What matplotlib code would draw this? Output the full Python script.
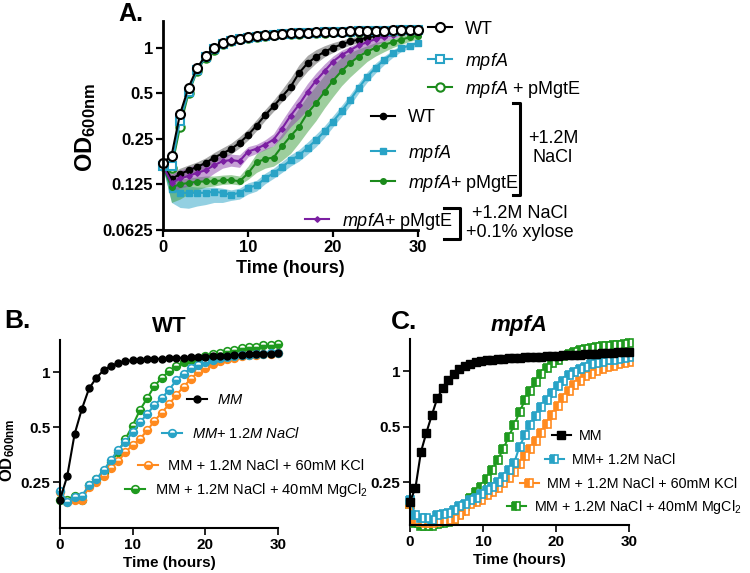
import matplotlib
matplotlib.use("Agg")
import matplotlib.pyplot as plt
import numpy as np
from matplotlib.lines import Line2D
from matplotlib.ticker import NullLocator

plt.rcParams['font.family'] = ['Liberation Sans', 'DejaVu Sans']
plt.rcParams['mathtext.fontset'] = 'custom'
plt.rcParams['mathtext.rm'] = 'Liberation Sans'
plt.rcParams['mathtext.it'] = 'Liberation Sans:italic'
plt.rcParams['mathtext.bf'] = 'Liberation Sans:bold'

# ---------------- data ----------------
# Panel A: hourly readings, 0-30 h
time_a = np.arange(0, 31)
wt_mm = [0.174, 0.193, 0.364, 0.544, 0.733, 0.886, 0.995, 1.07, 1.12, 1.145, 1.17,
         1.19, 1.21, 1.22, 1.235, 1.245, 1.25, 1.255, 1.26, 1.265, 1.27,
         1.275, 1.28, 1.285, 1.29, 1.29, 1.295, 1.3, 1.3, 1.305, 1.31]
mpfa_mm = [0.165, 0.165, 0.33, 0.51, 0.71, 0.87, 0.98, 1.06, 1.11, 1.14, 1.165,
           1.185, 1.2, 1.215, 1.23, 1.24, 1.245, 1.25, 1.255, 1.26, 1.265,
           1.27, 1.275, 1.28, 1.285, 1.29, 1.29, 1.295, 1.3, 1.3, 1.3]
mgte_mm = [0.165, 0.16, 0.30, 0.5, 0.7, 0.86, 0.97, 1.05, 1.1, 1.14, 1.16,
           1.18, 1.2, 1.21, 1.225, 1.235, 1.24, 1.245, 1.25, 1.255, 1.26,
           1.265, 1.27, 1.275, 1.28, 1.285, 1.285, 1.29, 1.29, 1.295, 1.3]

wt_nacl = [0.17, 0.136, 0.146, 0.155, 0.163, 0.173, 0.188, 0.2, 0.214, 0.235, 0.265,
           0.306, 0.358, 0.41, 0.475, 0.55, 0.68, 0.79, 0.87, 0.94, 1.0,
           1.05, 1.1, 1.13, 1.16, 1.2, 1.22, 1.245, 1.27, 1.28, 1.29]
wt_nacl_lo = [0.165, 0.125, 0.135, 0.143, 0.15, 0.16, 0.174, 0.185, 0.198, 0.218, 0.245,
              0.283, 0.33, 0.38, 0.44, 0.5, 0.6, 0.7, 0.79, 0.87, 0.93,
              0.99, 1.04, 1.08, 1.12, 1.16, 1.19, 1.22, 1.245, 1.26, 1.27]
wt_nacl_hi = [0.175, 0.15, 0.16, 0.168, 0.176, 0.187, 0.203, 0.218, 0.234, 0.258, 0.29,
              0.335, 0.39, 0.45, 0.53, 0.63, 0.77, 0.89, 0.97, 1.03, 1.08,
              1.12, 1.16, 1.19, 1.21, 1.24, 1.26, 1.28, 1.3, 1.31, 1.32]

mpfa_nacl = [0.165, 0.116, 0.11, 0.11, 0.11, 0.11, 0.112, 0.11, 0.107, 0.11, 0.119,
             0.123, 0.137, 0.148, 0.163, 0.18, 0.195, 0.218, 0.245, 0.28, 0.325,
             0.38, 0.45, 0.54, 0.64, 0.736, 0.83, 0.916, 0.995, 1.03, 1.075]
mpfa_nacl_lo = [0.16, 0.095, 0.088, 0.087, 0.09, 0.092, 0.095, 0.095, 0.098, 0.1, 0.108,
                0.113, 0.126, 0.137, 0.15, 0.165, 0.178, 0.198, 0.222, 0.255, 0.3,
                0.35, 0.415, 0.5, 0.59, 0.68, 0.77, 0.86, 0.94, 0.99, 1.03]
mpfa_nacl_hi = [0.17, 0.13, 0.125, 0.122, 0.12, 0.12, 0.12, 0.118, 0.115, 0.118, 0.128,
                0.133, 0.148, 0.16, 0.177, 0.196, 0.212, 0.238, 0.268, 0.305, 0.355,
                0.415, 0.49, 0.585, 0.69, 0.79, 0.88, 0.96, 1.04, 1.07, 1.11]

mgte_nacl = [0.165, 0.12, 0.125, 0.128, 0.13, 0.131, 0.131, 0.133, 0.134, 0.131, 0.148,
             0.175, 0.184, 0.188, 0.223, 0.26, 0.30, 0.37, 0.43, 0.51, 0.606,
             0.70, 0.79, 0.873, 0.94, 1.0, 1.045, 1.085, 1.13, 1.17, 1.2]
mgte_nacl_lo = [0.16, 0.095, 0.1, 0.108, 0.115, 0.12, 0.122, 0.125, 0.126, 0.124, 0.135,
                0.15, 0.16, 0.165, 0.18, 0.2, 0.235, 0.28, 0.33, 0.4, 0.475,
                0.56, 0.64, 0.72, 0.81, 0.88, 0.94, 1.0, 1.05, 1.1, 1.14]
mgte_nacl_hi = [0.17, 0.13, 0.135, 0.138, 0.14, 0.142, 0.142, 0.144, 0.145, 0.142, 0.165,
                0.2, 0.215, 0.225, 0.27, 0.33, 0.4, 0.48, 0.56, 0.66, 0.77,
                0.86, 0.93, 0.98, 1.03, 1.08, 1.11, 1.15, 1.19, 1.22, 1.25]

xyl_nacl = [0.165, 0.128, 0.137, 0.142, 0.149, 0.155, 0.167, 0.178, 0.181, 0.178, 0.206,
            0.215, 0.229, 0.247, 0.292, 0.355, 0.42, 0.51, 0.606, 0.70, 0.81,
            0.895, 0.96, 1.035, 1.085, 1.14, 1.185, 1.21, 1.245, 1.27, 1.29]
xyl_nacl_lo = [0.16, 0.11, 0.118, 0.122, 0.128, 0.135, 0.148, 0.16, 0.165, 0.162, 0.19,
               0.2, 0.212, 0.225, 0.255, 0.3, 0.34, 0.39, 0.45, 0.53, 0.63,
               0.72, 0.81, 0.9, 0.97, 1.04, 1.1, 1.15, 1.19, 1.23, 1.26]
xyl_nacl_hi = [0.17, 0.145, 0.155, 0.162, 0.17, 0.176, 0.187, 0.196, 0.198, 0.196, 0.222,
               0.23, 0.246, 0.27, 0.33, 0.4, 0.48, 0.58, 0.68, 0.78, 0.88,
               0.96, 1.02, 1.08, 1.12, 1.17, 1.21, 1.24, 1.27, 1.29, 1.31]

# Panel B: WT, hourly readings
time_b = np.arange(0, 31)
b_mm = [0.2, 0.27, 0.456, 0.627, 0.814, 0.93, 1.025, 1.08, 1.12, 1.15, 1.16,
        1.17, 1.175, 1.18, 1.185, 1.19, 1.195, 1.2, 1.205, 1.21, 1.215,
        1.22, 1.225, 1.23, 1.24, 1.245, 1.25, 1.255, 1.26, 1.265, 1.27]
b_nacl = [0.223, 0.195, 0.207, 0.21, 0.24, 0.26, 0.29, 0.33, 0.375, 0.415, 0.47,
          0.53, 0.59, 0.66, 0.72, 0.8, 0.9, 0.983, 1.05, 1.1, 1.14,
          1.17, 1.19, 1.21, 1.225, 1.235, 1.245, 1.255, 1.26, 1.27, 1.275]
b_kcl = [0.22, 0.195, 0.2, 0.2, 0.235, 0.25, 0.27, 0.3, 0.325, 0.363, 0.4,
         0.43, 0.48, 0.54, 0.6, 0.665, 0.75, 0.83, 0.92, 1.0, 1.06,
         1.11, 1.15, 1.18, 1.2, 1.22, 1.235, 1.245, 1.255, 1.26, 1.27]
b_mg = [0.2, 0.2, 0.21, 0.2, 0.24, 0.26, 0.28, 0.32, 0.366, 0.43, 0.51,
        0.62, 0.72, 0.84, 0.93, 1.01, 1.08, 1.13, 1.17, 1.2, 1.22,
        1.25, 1.28, 1.31, 1.33, 1.35, 1.37, 1.38, 1.4, 1.41, 1.42]

# Panel C: mpfA, readings every 45 min
time_c = np.arange(0, 30.01, 0.75)
c_mm = [0.195, 0.233, 0.365, 0.465, 0.58, 0.717, 0.81, 0.9, 0.97, 1.03, 1.07,
        1.1, 1.12, 1.14, 1.15, 1.16, 1.165, 1.17, 1.175, 1.18, 1.185,
        1.19, 1.195, 1.2, 1.2, 1.205, 1.21, 1.215, 1.22, 1.225, 1.23,
        1.235, 1.24, 1.245, 1.25, 1.255, 1.26, 1.265, 1.27, 1.275, 1.28]
c_nacl = [0.2, 0.166, 0.16, 0.16, 0.155, 0.165, 0.168, 0.17, 0.177, 0.185, 0.19,
          0.2, 0.205, 0.215, 0.226, 0.236, 0.25, 0.267, 0.29, 0.316, 0.39,
          0.45, 0.51, 0.57, 0.64, 0.7, 0.76, 0.83, 0.89, 0.95, 0.99,
          1.03, 1.06, 1.09, 1.11, 1.13, 1.15, 1.16, 1.17, 1.18, 1.19]
c_kcl = [0.19, 0.155, 0.152, 0.15, 0.15, 0.152, 0.153, 0.155, 0.158, 0.165, 0.175,
         0.19, 0.195, 0.2, 0.212, 0.222, 0.232, 0.247, 0.263, 0.283, 0.315,
         0.345, 0.38, 0.42, 0.465, 0.52, 0.58, 0.65, 0.72, 0.78, 0.84,
         0.89, 0.94, 0.97, 1.0, 1.03, 1.05, 1.07, 1.09, 1.105, 1.12]
c_mg = [0.19, 0.15, 0.145, 0.145, 0.145, 0.148, 0.15, 0.152, 0.157, 0.168, 0.185,
        0.205, 0.22, 0.236, 0.26, 0.29, 0.33, 0.376, 0.44, 0.51, 0.6,
        0.7, 0.78, 0.88, 0.97, 1.04, 1.11, 1.16, 1.21, 1.25, 1.28,
        1.3, 1.32, 1.34, 1.355, 1.37, 1.38, 1.39, 1.4, 1.41, 1.42]

BLACK = '#000000'
CYAN = '#29a3c6'
GREEN = '#1b8a1b'
PURPLE = '#7b1fa2'
ORANGE = '#ff8a1f'
GREEN_B = '#1f9a1f'

W, H = 750, 573
fig = plt.figure(figsize=(7.5, 5.73), dpi=100)


def style_axes(ax, spine_w, ticks_y, ylim, size):
    ax.set_yscale('log', base=2)
    ax.set_ylim(*ylim)
    ax.set_xlim(0, 30)
    ax.set_xticks([0, 10, 20, 30])
    ax.set_xticklabels(['0', '10', '20', '30'])
    ax.set_yticks(ticks_y)
    ax.set_yticklabels([('%g' % v) for v in ticks_y])
    ax.yaxis.set_minor_locator(NullLocator())
    for s in ['top', 'right']:
        ax.spines[s].set_visible(False)
    for s in ['left', 'bottom']:
        ax.spines[s].set_linewidth(spine_w)
    ax.tick_params(direction='out', length=5, width=spine_w * 0.8, pad=2,
                   labelsize=size)
    for lab in ax.get_xticklabels() + ax.get_yticklabels():
        lab.set_fontweight('bold')


def add_key(handle, label, x, y, size, hlen, pad):
    leg = fig.legend([handle], [label], loc='center left',
                     bbox_to_anchor=(x / W, 1 - y / H), frameon=False,
                     borderpad=0, borderaxespad=0, handlelength=hlen,
                     handletextpad=pad, fontsize=size)
    return leg


# ---------------- panel A ----------------
axA = fig.add_axes([163 / W, 1 - 230 / H, 255 / W, 209 / H])
axA.fill_between(time_a, wt_nacl_lo, wt_nacl_hi, color='#8a8a8a', alpha=0.75, lw=0)
axA.fill_between(time_a, mpfa_nacl_lo, mpfa_nacl_hi, color=CYAN, alpha=0.5, lw=0)
axA.fill_between(time_a, mgte_nacl_lo, mgte_nacl_hi, color='#3d9e3d', alpha=0.5, lw=0)
axA.fill_between(time_a, xyl_nacl_lo, xyl_nacl_hi, color='#8e44ad', alpha=0.5, lw=0)

l_wtn, = axA.plot(time_a, wt_nacl, '-o', color=BLACK, ms=4.5, lw=1.5, clip_on=False)
l_mpn, = axA.plot(time_a, mpfa_nacl, '-s', color=CYAN, ms=4.8, lw=1.5, clip_on=False)
l_mgn, = axA.plot(time_a, mgte_nacl, '-o', color=GREEN, ms=4, lw=1.5, clip_on=False)
l_xyl, = axA.plot(time_a, xyl_nacl, '-D', color=PURPLE, ms=2.8, lw=1.5, clip_on=False)

l_mg, = axA.plot(time_a, mgte_mm, '-o', color=GREEN, mfc='white', mec=GREEN,
                 ms=6, mew=1.5, lw=1.5, clip_on=False)
l_mp, = axA.plot(time_a, mpfa_mm, '-s', color=CYAN, mfc='white', mec=CYAN,
                 ms=5.5, mew=1.5, lw=1.5, clip_on=False)
l_wt, = axA.plot(time_a, wt_mm, '-o', color=BLACK, mfc='white', mec=BLACK,
                 ms=6.5, mew=1.5, lw=1.5, clip_on=False)

style_axes(axA, 2.0, [0.0625, 0.125, 0.25, 0.5, 1], (0.0625, 1.5), 12)
axA.set_xlabel('Time (hours)', fontsize=13, fontweight='bold', labelpad=4)
fig.text(86 / W, 1 - 128 / H, r'OD$_{\mathbf{600nm}}$', rotation=90, fontsize=17,
         fontweight='bold', ha='center', va='center')
fig.text(118 / W, 1 - 14 / H, 'A.', fontsize=18, fontweight='bold', va='center')

# legends of panel A
ka = dict(size=13, hlen=1.35, pad=0.7)
add_key(l_wt, 'WT', 428, 29, **ka)
add_key(l_mp, r'$\it{mpfA}$', 428, 61, **ka)
add_key(l_mg, r'$\it{mpfA}$ + pMgtE', 428, 89, **ka)
add_key(l_wtn, 'WT', 371, 118, **ka)
add_key(l_mpn, r'$\it{mpfA}$', 371, 153, **ka)
add_key(l_mgn, r'$\it{mpfA}$+ pMgtE', 371, 183, **ka)
add_key(l_xyl, r'$\it{mpfA}$+ pMgtE', 305, 221, **ka)

# brackets
def bracket(x, y0, y1, arm):
    xs = [(x - arm) / W, x / W, x / W, (x - arm) / W]
    ys = [1 - y0 / H, 1 - y0 / H, 1 - y1 / H, 1 - y1 / H]
    fig.add_artist(Line2D(xs, ys, color='black', lw=2.2, transform=fig.transFigure))


bracket(520, 103, 195, 7)
bracket(460, 208, 239, 16)
fig.text(553 / W, 1 - 148 / H, '+1.2M\nNaCl', fontsize=13, ha='center', va='center',
         linespacing=1.15)
fig.text(520 / W, 1 - 223 / H, '+1.2M NaCl\n+0.1% xylose', fontsize=13, ha='center',
         va='center', linespacing=1.1)

# ---------------- panel B ----------------
axB = fig.add_axes([60 / W, 1 - 528 / H, 218 / W, 188 / H])
lb_mm, = axB.plot(time_b, b_mm, '-o', color=BLACK, ms=5, lw=1.5, clip_on=False, zorder=3)
lb_mg, = axB.plot(time_b, b_mg, '-o', color=GREEN_B, ms=5.5, lw=1.5, mew=1.2,
                  fillstyle='bottom', markerfacecoloralt='white', clip_on=False)
lb_kcl, = axB.plot(time_b, b_kcl, '-o', color=ORANGE, ms=5.5, lw=1.5, mew=1.2,
                   fillstyle='bottom', markerfacecoloralt='white', clip_on=False)
lb_nacl, = axB.plot(time_b, b_nacl, '-o', color=CYAN, ms=5.5, lw=1.5, mew=1.2,
                    fillstyle='bottom', markerfacecoloralt='white', clip_on=False)
style_axes(axB, 1.5, [0.25, 0.5, 1], (0.14, 1.5), 11)
axB.set_xlabel('Time (hours)', fontsize=11, fontweight='bold', labelpad=3)
axB.set_title('WT', fontsize=16, fontweight='bold', pad=6)
fig.text(8 / W, 1 - 450 / H, r'OD$_{\mathbf{600nm}}$', rotation=90, fontsize=12,
         fontweight='bold', ha='center', va='center')
fig.text(4 / W, 1 - 321 / H, 'B.', fontsize=19, fontweight='bold', va='center')

kb = dict(size=10.5, hlen=1.4, pad=0.65)
add_key(lb_mm, r'$\it{MM}$', 187, 400, **kb)
add_key(lb_nacl, r'$\it{MM}$$\it{+\ 1.2M\ NaCl}$', 162, 434, **kb)
add_key(lb_kcl, 'MM + 1.2M NaCl + 60mM KCl', 138, 466, **kb)
add_key(lb_mg, r'MM + 1.2M NaCl + 40mM MgCl$_2$', 125, 490, **kb)

# ---------------- panel C ----------------
axC = fig.add_axes([410 / W, 1 - 525 / H, 219 / W, 186 / H])
lc_mm, = axC.plot(time_c, c_mm, '-s', color=BLACK, ms=5.5, lw=1.5, clip_on=False, zorder=3)
lc_mg, = axC.plot(time_c, c_mg, '-s', color=GREEN_B, ms=6, lw=1.5, mew=1.2,
                  fillstyle='left', markerfacecoloralt='white', clip_on=False)
lc_kcl, = axC.plot(time_c, c_kcl, '-s', color=ORANGE, ms=6, lw=1.5, mew=1.2,
                   fillstyle='left', markerfacecoloralt='white', clip_on=False)
lc_nacl, = axC.plot(time_c, c_nacl, '-s', color=CYAN, ms=6, lw=1.5, mew=1.2,
                    fillstyle='left', markerfacecoloralt='white', clip_on=False)
style_axes(axC, 1.5, [0.25, 0.5, 1], (0.146, 1.5), 11)
axC.set_xlabel('Time (hours)', fontsize=11, fontweight='bold', labelpad=3)
axC.set_title('mpfA', fontsize=16, fontweight='bold', style='italic', pad=6)
fig.text(391 / W, 1 - 322 / H, 'C.', fontsize=19, fontweight='bold', va='center')

kc = dict(size=10.3, hlen=1.3, pad=0.6)
add_key(lc_mm, 'MM', 552, 436, **kc)
add_key(lc_nacl, 'MM+ 1.2M NaCl', 545, 460, **kc)
add_key(lc_kcl, 'MM + 1.2M NaCl + 60mM KCl', 520, 484, **kc)
add_key(lc_mg, r'MM + 1.2M NaCl + 40mM MgCl$_2$', 507, 507, **kc)

fig.savefig('out.png', dpi=100)
